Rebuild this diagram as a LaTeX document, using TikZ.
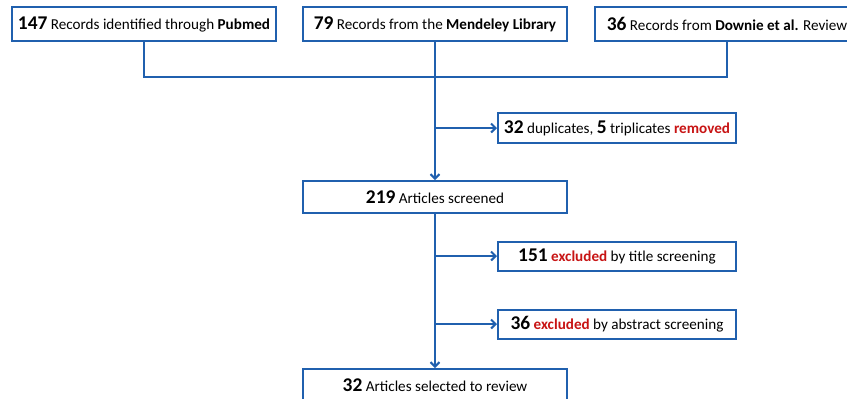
\documentclass[tikz,border=0pt]{standalone}
\usepackage{fontspec}
\setmainfont{Carlito}
\usetikzlibrary{arrows.meta}
\definecolor{flowblue}{RGB}{32,96,174}
\definecolor{flowred}{RGB}{200,20,20}
\newcommand{\nb}[1]{{\fontsize{19.5}{22}\selectfont\bfseries #1}}
\newcommand{\rd}[1]{\textcolor{flowred}{\bfseries #1}}
\begin{document}
\begin{tikzpicture}[x=1bp,y=-1bp]
    \tikzset{box/.style={draw=flowblue,line width=2bp,fill=white,rectangle,minimum width=264bp,minimum height=34bp,inner sep=0pt,text=black,font=\fontsize{15.2}{18}\selectfont}};
    \tikzset{side/.style={box,minimum width=238bp,minimum height=30bp}};
    \tikzset{flow/.style={draw=flowblue,line width=2bp,-{Straight Barb[length=4.5bp,width=9bp]}}};
    \useasboundingbox (0,0) rectangle (847,398);
    % sources
    \node[box] (sPub) at (144,24) {\nb{147} Records identified through \textbf{Pubmed}};
    \node[box] (sMen) at (435,24) {\nb{79} Records from the \textbf{Mendeley Library}};
    \node[box] (sDow) at (727,24) {\nb{36} Records from \textbf{Downie et al.} Review};
    % main steps
    \node[box,minimum height=32bp] (sScr) at (435,197) {\nb{219} Articles screened};
    \node[box,minimum height=32bp] (sSel) at (435,385) {\nb{32} Articles selected to review};
    % removed
    \node[side] (sDup) at (617,128) {\nb{32} duplicates, \nb{5} triplicates \rd{removed}};
    \node[side,minimum height=29bp] (sTit) at (617,256) {\nb{151} \rd{excluded} by title screening};
    \node[side,minimum height=29bp] (sAbs) at (617,324) {\nb{36} \rd{excluded} by abstract screening};
    \coordinate (jDup) at (sMen |- sDup);
    \coordinate (jTit) at (sScr |- sTit);
    \coordinate (jAbs) at (sScr |- sAbs);
    \coordinate (jTop) at (435,77);
    \draw[draw=flowblue,line width=2bp] (sPub.south) |- (jTop) -| (sDow.south);
    \draw[flow] (sMen.south) -- (sScr.north);
    \draw[flow] (sScr.south) -- (sSel.north);
    \draw[flow] (jDup) -- (sDup.west);
    \draw[flow] (jTit) -- (sTit.west);
    \draw[flow] (jAbs) -- (sAbs.west);
\end{tikzpicture}
\end{document}
